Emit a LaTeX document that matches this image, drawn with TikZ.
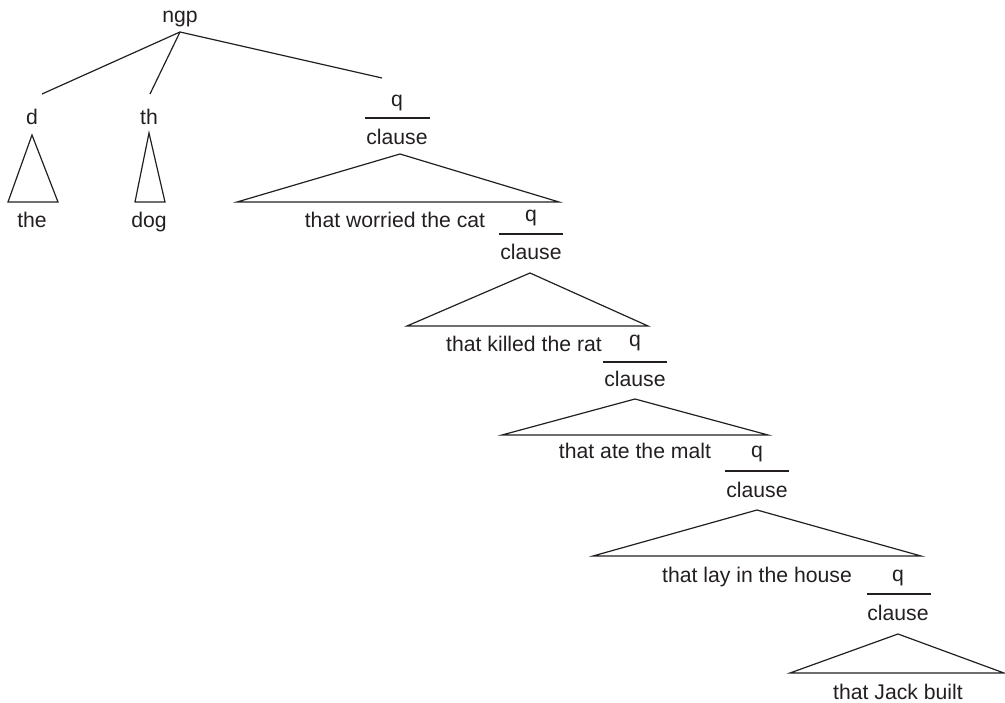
\documentclass[tikz,border=0pt]{standalone}
\usepackage{fontspec}
\setmainfont{Liberation Sans}
\definecolor{ink}{RGB}{35,31,32}
\begin{document}
\begin{tikzpicture}[x=1pt,y=-1pt,
  lbl/.style={anchor=base,inner sep=0pt,text=ink,font=\fontsize{21.2}{25}\selectfont},
  edge/.style={draw=ink,line width=1.2pt,line join=miter},
  tri/.style={draw=ink,line width=1.2pt,line join=miter}]
\useasboundingbox (0,0) rectangle (1005,703);
% top
\node[lbl] (ngp) at (180,23) {ngp};
\coordinate (ngpA) at (180,32);
\coordinate (dT) at (42,94);
\coordinate (thT) at (150,94);
\coordinate (q1T) at (382,78);
\draw[edge] (ngpA) -- (dT);
\draw[edge] (ngpA) -- (thT);
\draw[edge] (ngpA) -- (q1T);
% d
\node[lbl] (d) at (32,125) {d};
\coordinate (dA) at (32,135); \coordinate (dL) at (8,202); \coordinate (dR) at (58,202);
\draw[tri] (dA) -- (dL) -- (dR) -- cycle;
\node[lbl] (the) at (32,228) {the};
% th
\node[lbl] (th) at (149,125) {th};
\coordinate (thA) at (149,133); \coordinate (thL) at (135,202); \coordinate (thR) at (165,202);
\draw[tri] (thA) -- (thL) -- (thR) -- cycle;
\node[lbl] (dog) at (149,228) {dog};
% level 1
\node[lbl] (q1) at (397,107) {q};
\coordinate (l1a) at (365,118); \coordinate (l1b) at (430,118);
\draw[edge] (l1a) -- (l1b);
\node[lbl] (c1) at (397,145) {clause};
\coordinate (t1A) at (400,154); \coordinate (t1L) at (237,202); \coordinate (t1R) at (559,202);
\draw[tri] (t1A) -- (t1L) -- (t1R) -- cycle;
\node[lbl] (s1) at (395,228) {that worried the cat};
% level 2
\node[lbl] (q2) at (531,222) {q};
\coordinate (l2a) at (499,234); \coordinate (l2b) at (563,234);
\draw[edge] (l2a) -- (l2b);
\node[lbl] (c2) at (531,260) {clause};
\coordinate (t2A) at (530,273); \coordinate (t2L) at (407,326); \coordinate (t2R) at (648,326);
\draw[tri] (t2A) -- (t2L) -- (t2R) -- cycle;
\node[lbl] (s2) at (524,352) {that killed the rat};
% level 3
\node[lbl] (q3) at (635,347) {q};
\coordinate (l3a) at (603,362); \coordinate (l3b) at (667,362);
\draw[edge] (l3a) -- (l3b);
\node[lbl] (c3) at (635,387) {clause};
\coordinate (t3A) at (635,399); \coordinate (t3L) at (502,435); \coordinate (t3R) at (768,435);
\draw[tri] (t3A) -- (t3L) -- (t3R) -- cycle;
\node[lbl] (s3) at (635,459) {that ate the malt};
% level 4
\node[lbl] (q4) at (757,458) {q};
\coordinate (l4a) at (725,471); \coordinate (l4b) at (789,471);
\draw[edge] (l4a) -- (l4b);
\node[lbl] (c4) at (757,497) {clause};
\coordinate (t4A) at (757,510); \coordinate (t4L) at (593,556); \coordinate (t4R) at (921,556);
\draw[tri] (t4A) -- (t4L) -- (t4R) -- cycle;
\node[lbl] (s4) at (757,582) {that lay in the house};
% level 5
\node[lbl] (q5) at (898,581) {q};
\coordinate (l5a) at (867,594); \coordinate (l5b) at (931,594);
\draw[edge] (l5a) -- (l5b);
\node[lbl] (c5) at (898,620) {clause};
\coordinate (t5A) at (898,634); \coordinate (t5L) at (790,673); \coordinate (t5R) at (1004,673);
\draw[tri] (t5A) -- (t5L) -- (t5R) -- cycle;
\node[lbl] (s5) at (898,699) {that Jack built};
\end{tikzpicture}
\end{document}
